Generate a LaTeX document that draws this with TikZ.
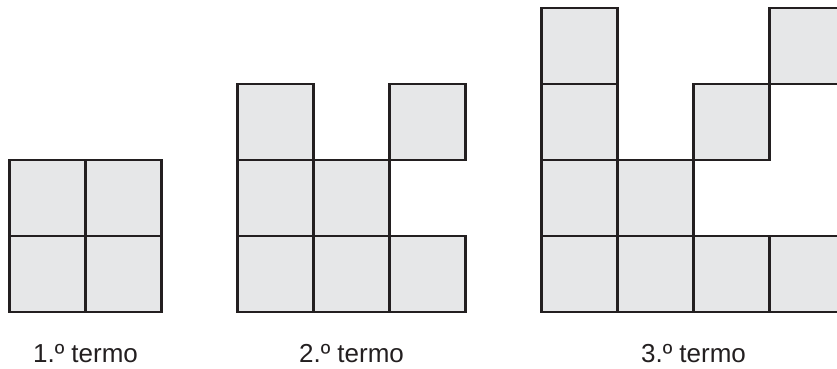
\documentclass[tikz,border=0pt]{standalone}
\usepackage{fontspec}
\setmainfont{Liberation Sans}
\definecolor{cellgray}{HTML}{E6E7E8}
\definecolor{celledge}{HTML}{231F20}

\begin{document}
\begin{tikzpicture}[x=76pt, y=76pt, cell/.style={fill=cellgray,draw=celledge,line width=2.2pt}, every node/.style={font=\fontsize{26}{31}\selectfont, text=celledge}]
			\useasboundingbox (-0.125,-0.75) rectangle (10.888,4.105);
			\clip (-0.125,-0.75) rectangle (10.888,4.105);

			% 1st term
			\foreach \x/\y in {0/0,1/0,0/1,1/1}
				\draw[cell] (\x,\y) rectangle ++(1,1);

			% 2nd term
			\foreach \x/\y in {3/0,4/0,5/0,3/1,4/1,3/2,5/2}
				\draw[cell] (\x,\y) rectangle ++(1,1);

			% 3rd term
			\foreach \x/\y in {7/0,8/0,9/0,10/0,7/1,8/1,7/2,9/2,7/3,10/3}
				\draw[cell] (\x,\y) rectangle ++(1,1);

			% Labels
			\node[anchor=base] (term1) at (1,-0.66) {1.º termo};
			\node[anchor=base] (term2) at (4.5,-0.66) {2.º termo};
			\node[anchor=base] (term3) at (9,-0.66) {3.º termo};
		\end{tikzpicture}
\end{document}
